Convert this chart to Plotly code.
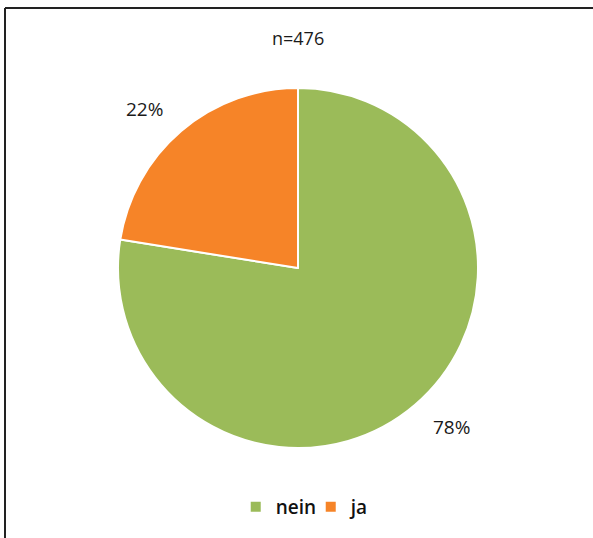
import math
import plotly.graph_objects as go

labels = ["nein", "ja"]
values = [369, 107]
colors = ["#9BBB59", "#F68428"]
subtitle = "n=476"

W, H = 593, 538
cx, cy, r = 298, 268, 180

fig = go.Figure()
fig.add_trace(go.Pie(
    labels=labels, values=values, sort=False, direction="clockwise", rotation=0,
    marker=dict(colors=colors, line=dict(color="white", width=2)),
    textinfo="none", hoverinfo="label+percent",
    domain=dict(x=[(cx - r) / W, (cx + r) / W], y=[1 - (cy + r) / H, 1 - (cy - r) / H]),
))

# percentage labels placed outside at each slice's mid-angle
total = sum(values)
cum = 0
for v in values:
    mid = (cum + v / 2) / total * 2 * math.pi - math.radians(3.5)
    cum += v
    rr = r * 1.23
    px = cx + rr * math.sin(mid)
    py = cy - rr * math.cos(mid)
    fig.add_annotation(x=px / W, y=1 - py / H, xref="paper", yref="paper",
                       xanchor="center", yanchor="middle",
                       text=f"{round(v / total * 100)}%", showarrow=False,
                       font=dict(size=19, color="#1a1a1a"))

fig.add_annotation(x=cx / W, y=1 - 38 / H, xref="paper", yref="paper", text=subtitle,
                   xanchor="center", yanchor="middle",
                   showarrow=False, font=dict(size=18, color="#1a1a1a"))

# frame
fig.add_shape(type="line", xref="paper", yref="paper", x0=5 / W, x1=1.02, y0=1 - 8 / H, y1=1 - 8 / H,
              line=dict(color="#222", width=2))
fig.add_shape(type="line", xref="paper", yref="paper", x0=5 / W, x1=5 / W, y0=-0.02, y1=1 - 8 / H,
              line=dict(color="#222", width=2))

fig.update_layout(
    width=W, height=H, margin=dict(l=0, r=0, t=0, b=0),
    paper_bgcolor="white", plot_bgcolor="white",
    font=dict(family="Open Sans, DejaVu Sans, sans-serif", size=18, color="#1a1a1a"),
    showlegend=True,
    legend=dict(orientation="h", x=0.524, xanchor="center", y=1 - 507 / H, yanchor="middle",
                font=dict(size=19, color="#111", weight=600), itemwidth=30,
                entrywidth=30, entrywidthmode="pixels", traceorder="normal"),
)
fig.write_html("out.html")
